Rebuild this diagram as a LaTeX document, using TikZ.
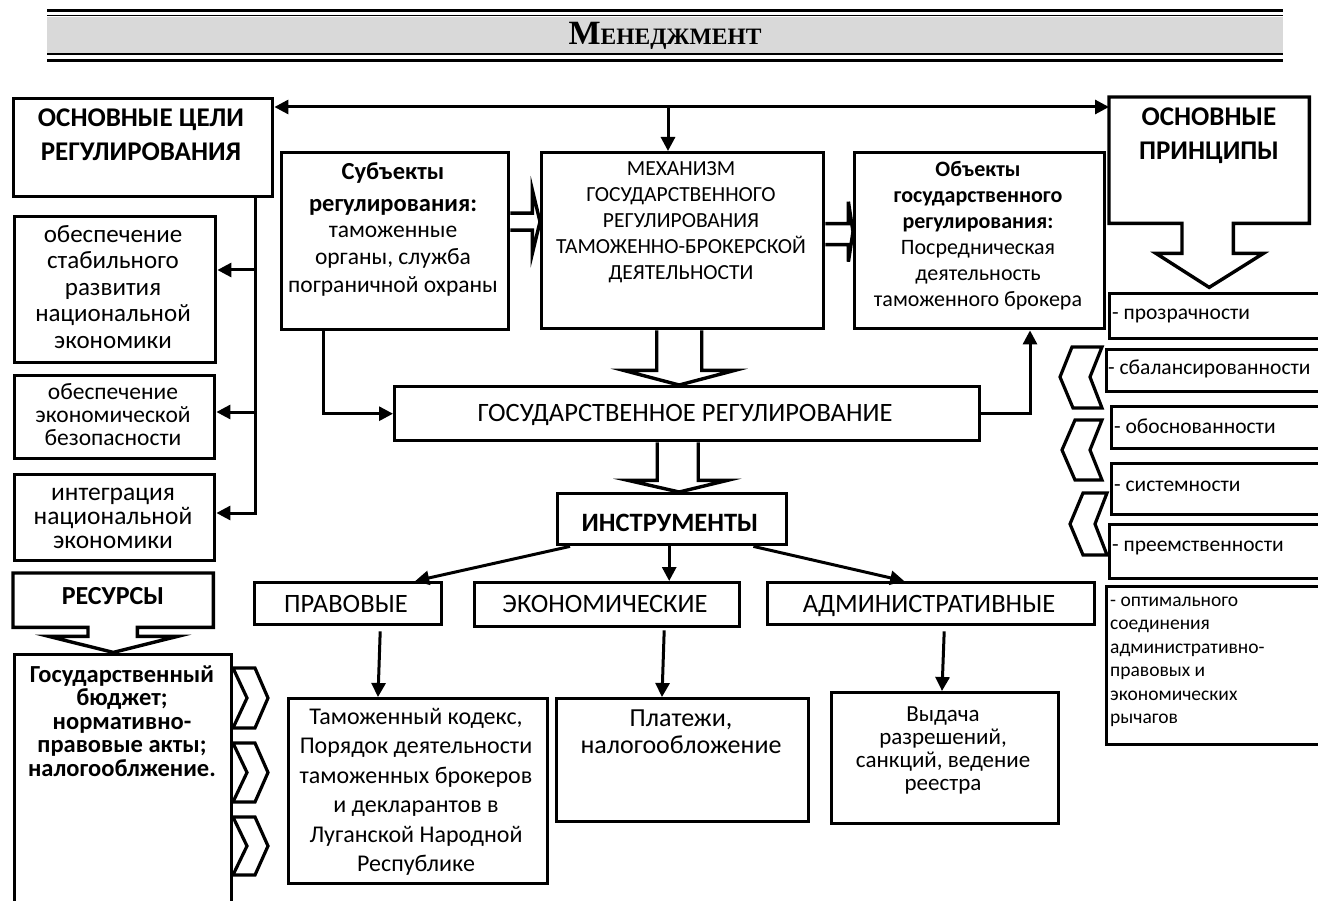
\documentclass[tikz,border=0pt]{standalone}
\usepackage{fontspec}
\setmainfont{Carlito}
\newfontfamily\hdrfont{Liberation Serif}
\usetikzlibrary{arrows.meta,calc}
\newcommand\fsz[2]{\fontsize{#1}{#2}\selectfont\lineskiplimit=-100pt\lineskip=0pt}
\newcommand\mybox[5]{\node[box, minimum width={#4-#2}, minimum height={#5-#3}] (#1) at (#2,#3) {};}
\newcommand\chevR[3]{\draw[chev] (#1,#2) -- ++(22,0) -- (#1+35,{(#2+#3)/2}) -- (#1+22,#3) -- (#1,#3) -- (#1+14,{(#2+#3)/2}) -- cycle;}
\lineskiplimit=-100pt
\begin{document}
\begin{tikzpicture}[x=1pt,y=-1pt,
  box/.style={draw, line width=3.4pt, inner sep=0pt, anchor=north west},
  txt/.style={inner sep=0pt, align=center},
  btxt/.style={inner sep=0pt, anchor=base},
  ltxt/.style={inner sep=0pt, align=left, anchor=west},
  con/.style={line width=3pt, -{Triangle[length=14pt,width=14pt]}},
  con2/.style={line width=3pt, {Triangle[length=14pt,width=14pt]}-{Triangle[length=14pt,width=14pt]}},
  plain/.style={line width=3pt},
  hollow/.style={line width=3.4pt, line join=miter},
  chev/.style={line width=3.2pt, line join=miter}]
\useasboundingbox (0,0) rectangle (1318,901);
\clip (0,0) rectangle (1318,901);
% header
\fill[gray!30] (47,16.7) rectangle (1283,53.3);
\draw[line width=2.7pt] (47,10.7) -- (1283,10.7);
\draw[line width=1.4pt] (47,15.8) -- (1283,15.8);
\draw[line width=1.8pt] (47,54.3) -- (1283,54.3);
\draw[line width=2.8pt] (47,60.7) -- (1283,60.7);
\node[btxt] (hdr) at (665,45) {\hdrfont\bfseries\fsz{34}{34}М\fsz{23.5}{24}ЕНЕДЖМЕНТ};
% goals
\mybox{goals}{12}{97}{271}{195}
\node[txt, font=\bfseries\fsz{27}{34}] (goalst) at (141,135) {ОСНОВНЫЕ ЦЕЛИ\\РЕГУЛИРОВАНИЯ};
\mybox{g1}{13}{215}{214}{361}
\node[txt, font=\fsz{25}{26.5}] (g1t) at (113,287) {обеспечение\\стабильного\\развития\\национальной\\экономики};
\mybox{g2}{13}{374}{213}{457}
\node[txt, font=\fsz{23.5}{23}] (g2t) at (113,415) {обеспечение\\экономической\\безопасности};
\mybox{g3}{13}{473}{213}{559}
\node[txt, font=\fsz{25.5}{24}] (g3t) at (113,518) {интеграция\\национальной\\экономики};
\coordinate (t1) at (255,270);
\coordinate (t2) at (255,412);
\coordinate (t3) at (255,513);
\draw[plain] (goals.south -| t1) -- ($(t3)+(0,2)$);
\draw[con] (t1) -- (t1 -| g1.east);
\draw[con] (t2) -- (t2 -| g2.east);
\draw[con] (t3) -- (t3 -| g3.east);
% resources
\node[inner sep=0pt, minimum width=200, minimum height=54, anchor=north west] (res) at (13,573) {};
\draw[hollow] (res.north west) -- (res.north east) -- (res.south east) -- ++(-76,0) -- ++(0,9) -- ++(40,0) -- ($(res.south)+(0,25)$) -- ($(res.south west)+(36,9)$) -- ++(39,0) -- ++(0,-9) -- (res.south west) -- cycle;
\node[btxt, font=\bfseries\fsz{26}{26}] (rest) at (113,604) {РЕСУРСЫ};
\node[draw, line width=3.4pt, inner sep=0pt, anchor=north west, minimum width=217, minimum height=280] (resb) at (13,653) {};
\node[txt, font=\bfseries\fsz{24.5}{23.5}] (resbt) at (122,721) {Государственный\\бюджет;\\нормативно-\\правовые акты;\\налогооблжение.};
\chevR{233}{668}{728}
\chevR{233}{743}{802}
\chevR{233}{817}{875}
% subjects
\mybox{subj}{280}{151}{507}{328}
\node[txt, font=\bfseries\fsz{24.5}{32}] (subjt1) at (393,189) {Субъекты\\регулирования:};
\node[txt, font=\fsz{23.5}{27.5}] (subjt2) at (393,261) {таможенные\\органы, служба\\пограничной охраны};
% mechanism
\mybox{mech}{540}{151}{822}{327}
\node[txt, font=\fsz{21.5}{26}] (mecht) at (681,222) {МЕХАНИЗМ\\ГОСУДАРСТВЕННОГО\\РЕГУЛИРОВАНИЯ\\ТАМОЖЕННО-БРОКЕРСКОЙ\\ДЕЯТЕЛЬНОСТИ};
% objects
\mybox{obj}{853}{151}{1103}{327}
\node[txt, font=\fsz{22}{26}] (objt) at (978,236) {\bfseries Объекты\\\bfseries государственного\\\bfseries регулирования:\\Посредническая\\деятельность\\таможенного брокера};
% principles
\node[inner sep=0pt, minimum width=200, minimum height=126, anchor=north west] (princ) at (1109,97) {};
\draw[hollow] (princ.north west) -- (princ.north east) -- (princ.south east) -- ++(-76,0) -- ++(0,30) -- ++(30,0) -- ($(princ.south)+(0,64)$) -- ($(princ.south west)+(47,30)$) -- ++(26,0) -- ++(0,-30) -- (princ.south west) -- cycle;
\node[txt, font=\bfseries\fsz{27}{34}] (princt) at (1209,136) {ОСНОВНЫЕ\\ПРИНЦИПЫ};
\mybox{p1}{1108}{292}{1330}{337}
\node[ltxt, font=\fsz{21.5}{23}] (p1t) at (1112,316) {- прозрачности};
\mybox{p2}{1105}{348}{1330}{390}
\node[ltxt, font=\fsz{21.5}{23}] (p2t) at (1108,369) {- сбалансированности};
\mybox{p3}{1110}{405}{1330}{447}
\node[ltxt, font=\fsz{21.5}{23}] (p3t) at (1114,426) {- обоснованности};
\mybox{p4}{1110}{462}{1330}{513}
\node[ltxt, font=\fsz{21.5}{23}] (p4t) at (1114,486) {- системности};
\mybox{p5}{1108}{523}{1330}{577}
\node[ltxt, font=\fsz{21.5}{23}] (p5t) at (1112,548) {- преемственности};
\mybox{p6}{1105}{585}{1330}{743}
\node[ltxt, font=\fsz{19.5}{23.5}] (p6t) at (1110,662) {- оптимального\\соединения\\административно-\\правовых и\\экономических\\рычагов};
\draw[chev] (1072,347) -- (1102,347) -- (1090,377) -- (1102,408) -- (1073,408) -- (1060,377) -- cycle;
\draw[chev] (1075,420) -- (1102,420) -- (1090,450) -- (1102,480) -- (1075,480) -- (1062,450) -- cycle;
\draw[chev] (1083,493) -- (1107,493) -- (1095,524) -- (1107,555) -- (1083,555) -- (1070,524) -- cycle;
% top connectors
\coordinate (tl) at ($(goals.north east)+(0,10)$);
\coordinate (tr) at ($(princ.north west)+(0,10)$);
\draw[con2] (tl) -- (tr);
\coordinate (tm) at (668,107);
\draw[con] (tm) -- (tm |- mech.north);
% hollow arrows subj->mech, mech->obj
\draw[hollow] ($(subj.east)+(0,-28)$) -- ++(22,0) -- ++(0,-23) -- ($(mech.west)+(0,-19)$) -- ($(subj.east)+(22,12)$) -- ++(0,-23) -- ++(-22,0);
\draw[hollow] ($(mech.east)+(0,-17)$) -- ++(23,0) -- ++(0,-22) -- ($(obj.west)+(0,-9)$) -- ($(mech.east)+(23,21)$) -- ++(0,-17) -- ++(-23,0);
% state regulation
\mybox{gos}{393}{385}{978}{439}
\node[btxt, font=\fsz{26.5}{26.5}] (gost) at (685,421) {ГОСУДАРСТВЕННОЕ РЕГУЛИРОВАНИЕ};
\draw[hollow] ($(mech.south)+(-26,0)$) -- ++(0,40) -- ++(-33,0) -- ($(gos.north)+(-8,0)$) -- ($(mech.south)+(52,40)$) -- ++(-33,0) -- ++(0,-40);
\draw[con] ($(subj.south west)+(43,0)$) |- (gos.west);
\draw[con] (gos.east) -| (obj.south -| 1030,0);
% instruments
\mybox{instr}{556}{492}{785}{543}
\draw[hollow] ($(gos.south)+(-30,0)$) -- ++(0,38) -- ++(-29,0) -- ($(instr.north)+(7,0)$) -- ($(gos.south)+(40,38)$) -- ++(-29,0) -- ++(0,-38);
\node[btxt, font=\bfseries\fsz{26.5}{26.5}] (instrt) at (670,531) {ИНСТРУМЕНТЫ};
\mybox{prav}{253}{581}{440}{623}
\node[btxt, font=\fsz{26.5}{26.5}] (pravt) at (346,612) {ПРАВОВЫЕ};
\mybox{econ}{473}{581}{738}{625}
\node[btxt, font=\fsz{26.5}{26.5}] (econt) at (605,612) {ЭКОНОМИЧЕСКИЕ};
\mybox{adm}{766}{581}{1093}{623}
\node[btxt, font=\fsz{26.5}{26.5}] (admt) at (929,612) {АДМИНИСТРАТИВНЫЕ};
\draw[con] ($(instr.south west)+(14,0)$) -- ($(prav.north)+(67,0)$);
\draw[con] ($(instr.south)+(-3,0)$) -- ($(econ.north)+(62,0)$);
\draw[con] ($(instr.south east)+(-35,0)$) -- ($(adm.north)+(-27,0)$);
% bottom boxes
\mybox{law}{287}{697}{546}{882}
\node[txt, font=\fsz{24}{29.5}] (lawt) at (416,792) {Таможенный кодекс,\\Порядок деятельности\\таможенных брокеров\\и декларантов в\\Луганской Народной\\Республике};
\mybox{pay}{555}{697}{807}{820}
\node[txt, font=\fsz{26}{27}] (payt) at (681,732) {Платежи,\\налогообложение};
\mybox{iss}{830}{691}{1057}{822}
\node[txt, font=\fsz{23}{23}] (isst) at (943,750) {Выдача\\разрешений,\\санкций, ведение\\реестра};
\draw[con] ($(prav.south)+(32,5)$) -- (law.north -| 378,0);
\draw[con] ($(econ.south)+(57,2)$) -- (pay.north -| 662,0);
\draw[con] ($(adm.south)+(13,5)$) -- (iss.north -| 942,0);
\end{tikzpicture}
\end{document}
